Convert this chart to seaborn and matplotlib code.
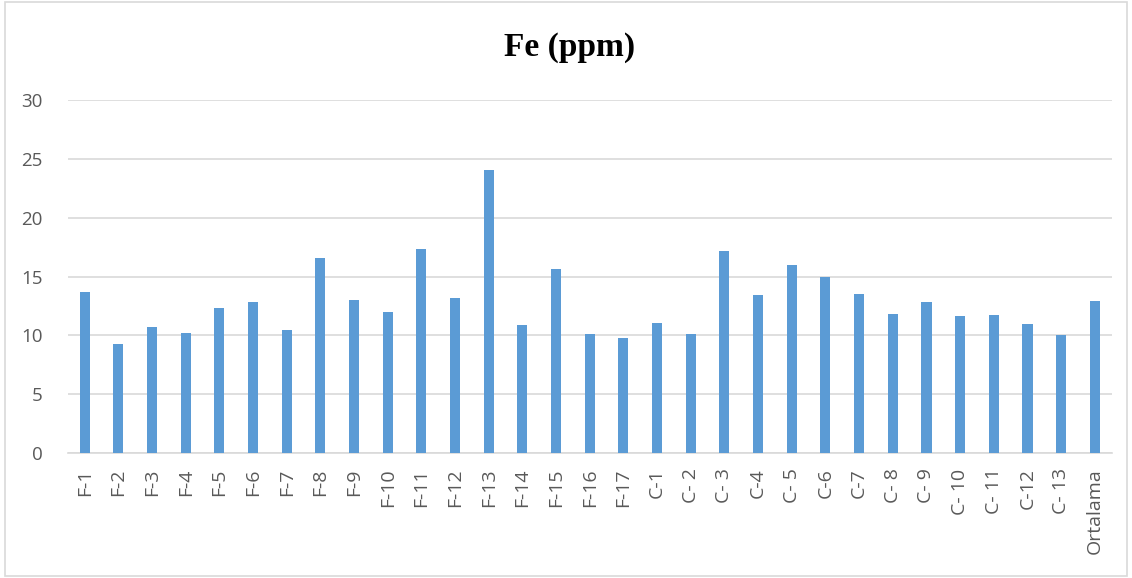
import matplotlib
matplotlib.use("Agg")
import matplotlib.pyplot as plt
import seaborn as sns
import pandas as pd
from matplotlib.patches import Rectangle

categories = ["F-1", "F-2", "F-3", "F-4", "F-5", "F-6", "F-7", "F-8", "F-9", "F-10",
              "F-11", "F-12", "F-13", "F-14", "F-15", "F-16", "F-17",
              "C-1", "C- 2", "C- 3", "C-4", "C- 5", "C-6", "C-7", "C- 8", "C- 9",
              "C- 10", "C- 11", "C-12", "C- 13", "Ortalama"]
values = [13.67, 9.27, 10.72, 10.24, 12.31, 12.84, 10.49, 16.61, 13.04, 12.02,
          17.30, 13.21, 24.04, 10.86, 15.62, 10.09, 9.75,
          11.09, 10.09, 17.21, 13.47, 16.02, 14.97, 13.52, 11.85, 12.82,
          11.62, 11.71, 10.97, 10.04, 12.93]
yticks = [0, 5, 10, 15, 20, 25, 30]
title = "Fe (ppm)"

sns.set_theme(style="white")
plt.rcParams['font.family'] = ['Open Sans', 'DejaVu Sans']

df = pd.DataFrame({"cat": categories, "val": values})

fig = plt.figure(figsize=(11.32, 5.78), dpi=100)
ax = fig.add_axes([0.060, 0.216, 0.922, 0.611])

sns.barplot(data=df, x="cat", y="val", color="#5b9bd5", saturation=1,
            width=0.30, ax=ax, zorder=3, edgecolor="none")

ax.set_ylim(0, 30)
ax.set_xlim(-0.5, len(categories) - 0.5)
ax.set_yticks(yticks)
ax.set_yticklabels([str(t) for t in yticks], fontsize=13.5, color="#595959")
ax.set_xticks(range(len(categories)))
ax.set_xticklabels(categories, rotation=90, fontsize=14, color="#595959")
ax.tick_params(axis="x", length=0, pad=11)
ax.tick_params(axis="y", length=0, pad=18)
ax.set_xlabel("")
ax.set_ylabel("")
ax.grid(axis="y", color="#d9d9d9", linewidth=1.2, zorder=0)
ax.set_axisbelow(True)
for s in ["top", "right", "left"]:
    ax.spines[s].set_visible(False)
ax.spines["bottom"].set_color("#d9d9d9")
ax.spines["bottom"].set_linewidth(1.2)

fig.text(0.503, 0.918, title, ha="center", va="center", fontsize=24,
         fontweight="bold", family=["Liberation Serif", "DejaVu Serif"], color="black")

fig.patches.append(Rectangle((0.004, 0.004), 0.992, 0.992, transform=fig.transFigure,
                             fill=False, edgecolor="#d9d9d9", linewidth=1.2))

fig.savefig("out.png", dpi=100, facecolor="white")
